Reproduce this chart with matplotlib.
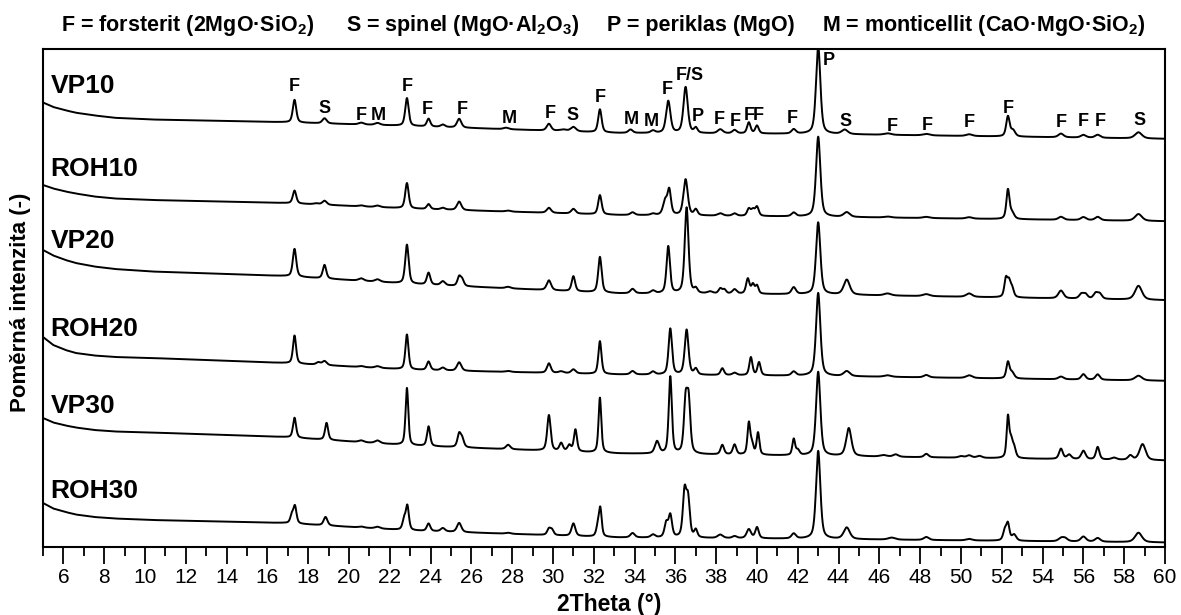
import numpy as np
import matplotlib
matplotlib.use("Agg")
import matplotlib.pyplot as plt

plt.rcParams['font.family'] = ['Liberation Sans', 'DejaVu Sans']
plt.rcParams['mathtext.fontset'] = 'custom'
plt.rcParams['mathtext.default'] = 'bf'
plt.rcParams['mathtext.bf'] = 'Liberation Sans:bold'
plt.rcParams['mathtext.rm'] = 'Liberation Sans:bold'

# baseline knots (2Theta) shared by all samples
base_tt = [5.0, 5.5, 6.1, 6.6, 7.5, 8.5, 10.3, 16.8, 23.0, 33.2, 43.3, 60.0]

# baseline levels, per sample
vp10_base = [449.5, 445.0, 441.7, 439.3, 436.6, 434.2, 432.5, 429.8, 426.0, 419.0, 418.0, 413.2]
roh10_base = [367.0, 363.5, 360.5, 358.5, 355.5, 353.5, 352.0, 349.0, 343.4, 337.0, 335.2, 330.8]
vp20_base = [302.0, 296.5, 292.0, 289.0, 285.5, 283.0, 280.5, 276.0, 268.1, 258.6, 257.5, 251.8]
roh20_base = [215.0, 207.0, 202.0, 199.0, 196.5, 195.0, 194.0, 189.0, 182.3, 177.5, 176.0, 171.2]
vp30_base = [134.0, 129.5, 126.5, 124.5, 122.0, 120.5, 119.5, 115.0, 106.5, 98.5, 96.0, 91.5]
roh30_base = [49.0, 43.5, 40.0, 37.5, 35.0, 33.5, 32.0, 29.0, 21.5, 14.5, 13.0, 9.5]

# peaks: 2Theta, height, fwhm
vp10_peaks = np.array([
    [17.33, 22.7, 0.2], [18.8, 5.1, 0.25], [20.6, 1.8, 0.3], [21.4, 2.0, 0.3],
    [22.84, 27.8, 0.2], [23.9, 7.8, 0.2], [24.6, 2.4, 0.25], [25.4, 8.8, 0.25],
    [27.7, 1.5, 0.3], [29.8, 6.8, 0.25], [30.5, 1.5, 0.4], [31.0, 4.4, 0.3],
    [32.3, 23.0, 0.2], [33.8, 3.4, 0.25], [34.9, 2.4, 0.25], [35.65, 32.0, 0.25],
    [36.5, 46.0, 0.25], [37.0, 5.0, 0.2], [38.2, 4.0, 0.3], [38.9, 3.4, 0.25],
    [39.6, 11.0, 0.2], [40.0, 7.8, 0.2], [41.8, 4.4, 0.25], [43.0, 88.0, 0.25],
    [44.3, 4.4, 0.35], [46.4, 1.5, 0.4], [48.3, 1.5, 0.4], [50.4, 1.7, 0.35],
    [52.3, 20.0, 0.2], [52.55, 6.0, 0.25], [54.9, 3.7, 0.3], [56.0, 2.7, 0.3],
    [56.7, 3.0, 0.3], [58.7, 6.1, 0.4],
])
roh10_peaks = np.array([
    [17.33, 12.9, 0.2], [18.4, 1.0, 0.3], [18.8, 4.0, 0.25], [20.6, 1.0, 0.3],
    [21.4, 1.5, 0.3], [22.84, 25.4, 0.2], [23.9, 5.0, 0.2], [24.6, 1.7, 0.25],
    [25.4, 8.5, 0.25], [27.8, 1.0, 0.3], [29.8, 5.0, 0.25], [31.0, 4.7, 0.25],
    [32.3, 19.3, 0.2], [33.9, 2.7, 0.25], [34.9, 1.4, 0.25], [35.5, 14.0, 0.25],
    [35.7, 24.0, 0.2], [36.5, 36.0, 0.25], [37.0, 5.8, 0.2], [38.2, 2.4, 0.3],
    [38.9, 2.4, 0.25], [39.6, 7.0, 0.2], [39.8, 6.0, 0.2], [40.0, 9.0, 0.2],
    [41.8, 3.7, 0.25], [43.0, 80.0, 0.25], [44.4, 4.7, 0.35], [46.4, 1.0, 0.4],
    [48.3, 1.2, 0.4], [50.4, 1.4, 0.35], [52.3, 29.0, 0.18], [52.5, 6.0, 0.25],
    [54.9, 3.0, 0.3], [56.0, 3.0, 0.3], [56.7, 3.4, 0.3], [58.7, 6.8, 0.4],
])
vp20_peaks = np.array([
    [17.33, 27.8, 0.2], [18.8, 13.6, 0.2], [20.6, 2.4, 0.3], [21.4, 2.4, 0.3],
    [22.84, 39.0, 0.2], [23.9, 11.9, 0.2], [24.6, 4.0, 0.25], [25.4, 9.0, 0.2],
    [25.55, 6.0, 0.2], [27.8, 1.5, 0.3], [29.8, 9.8, 0.25], [31.0, 15.0, 0.2],
    [32.3, 35.6, 0.2], [33.9, 4.4, 0.25], [34.9, 2.7, 0.25], [35.65, 47.0, 0.2],
    [36.55, 86.0, 0.22], [37.0, 4.4, 0.2], [37.7, 2.0, 0.3], [38.2, 5.0, 0.2],
    [38.4, 4.0, 0.2], [38.9, 4.4, 0.25], [39.55, 15.0, 0.2], [39.8, 9.0, 0.18],
    [40.0, 8.0, 0.18], [41.8, 6.8, 0.25], [43.0, 72.0, 0.25], [44.4, 15.0, 0.35],
    [46.4, 2.0, 0.4], [48.3, 2.0, 0.4], [50.4, 3.4, 0.35], [52.2, 18.0, 0.18],
    [52.35, 14.0, 0.18], [52.5, 9.0, 0.2], [54.9, 7.8, 0.3], [55.9, 4.5, 0.25],
    [56.1, 4.5, 0.25], [56.6, 5.5, 0.25], [56.8, 5.0, 0.25], [58.7, 13.9, 0.4],
])
roh20_peaks = np.array([
    [17.33, 28.1, 0.18], [18.5, 2.4, 0.25], [18.8, 4.0, 0.25], [20.6, 1.0, 0.3],
    [21.4, 1.7, 0.3], [22.84, 35.0, 0.18], [23.9, 8.5, 0.2], [24.6, 2.7, 0.25],
    [25.4, 8.5, 0.25], [27.8, 1.0, 0.3], [29.8, 9.5, 0.22], [30.4, 1.7, 0.3],
    [31.0, 4.0, 0.25], [32.3, 32.9, 0.18], [33.9, 3.4, 0.25], [34.9, 3.0, 0.25],
    [35.75, 46.0, 0.2], [36.55, 45.0, 0.22], [37.0, 5.8, 0.2], [38.3, 6.8, 0.2],
    [38.9, 2.4, 0.25], [39.7, 18.0, 0.18], [40.1, 13.0, 0.18], [41.8, 4.0, 0.25],
    [43.0, 83.0, 0.25], [44.4, 5.0, 0.35], [46.4, 1.5, 0.4], [48.3, 2.4, 0.3],
    [50.4, 2.7, 0.35], [52.3, 16.0, 0.18], [52.5, 6.0, 0.25], [54.9, 2.7, 0.3],
    [56.0, 5.4, 0.25], [56.7, 5.4, 0.25], [58.7, 4.7, 0.4],
])
vp30_peaks = np.array([
    [17.33, 20.0, 0.18], [18.9, 17.0, 0.18], [20.6, 1.7, 0.3], [21.4, 2.7, 0.3],
    [22.84, 57.3, 0.16], [23.9, 19.7, 0.18], [25.4, 13.0, 0.2], [25.55, 8.0, 0.2],
    [27.8, 4.4, 0.25], [29.8, 35.6, 0.2], [30.4, 7.8, 0.2], [30.8, 6.0, 0.2],
    [31.1, 22.0, 0.18], [32.3, 55.0, 0.16], [35.1, 12.2, 0.25], [35.75, 77.0, 0.18],
    [36.5, 50.0, 0.2], [36.65, 50.0, 0.2], [38.3, 9.5, 0.2], [38.9, 10.0, 0.2],
    [39.6, 31.0, 0.16], [39.75, 10.0, 0.18], [40.05, 22.0, 0.16], [41.8, 16.0, 0.16],
    [42.0, 5.0, 0.2], [43.0, 84.0, 0.25], [44.5, 28.0, 0.3], [46.2, 1.5, 0.4],
    [46.8, 2.4, 0.3], [48.3, 3.4, 0.25], [50.0, 1.5, 0.3], [50.4, 2.4, 0.3],
    [50.9, 2.0, 0.3], [52.3, 40.0, 0.15], [52.45, 16.0, 0.18], [52.6, 10.0, 0.2],
    [54.9, 10.2, 0.22], [55.3, 4.4, 0.25], [56.0, 8.5, 0.25], [56.7, 12.5, 0.2],
    [57.5, 2.0, 0.3], [58.3, 4.4, 0.25], [58.9, 16.0, 0.35],
])
roh30_peaks = np.array([
    [17.2, 8.0, 0.18], [17.35, 17.0, 0.18], [18.85, 8.5, 0.22], [20.6, 1.0, 0.3],
    [21.4, 1.7, 0.3], [22.7, 10.0, 0.18], [22.86, 24.0, 0.18], [23.9, 7.5, 0.2],
    [24.6, 3.4, 0.25], [25.4, 9.2, 0.25], [27.8, 1.0, 0.3], [29.8, 6.0, 0.2],
    [29.95, 5.0, 0.2], [31.0, 12.5, 0.22], [32.2, 10.0, 0.18], [32.32, 27.0, 0.16],
    [33.9, 4.4, 0.25], [34.9, 3.0, 0.25], [35.55, 14.0, 0.2], [35.75, 22.0, 0.2],
    [36.45, 45.0, 0.2], [36.62, 37.0, 0.2], [37.0, 7.5, 0.18], [38.2, 3.4, 0.3],
    [38.9, 2.0, 0.25], [39.6, 9.0, 0.25], [40.0, 11.0, 0.2], [41.8, 5.0, 0.25],
    [43.0, 88.0, 0.25], [44.4, 11.5, 0.35], [46.6, 2.0, 0.4], [48.3, 3.0, 0.3],
    [50.4, 1.5, 0.35], [52.15, 10.0, 0.2], [52.3, 16.0, 0.18], [52.6, 6.0, 0.25],
    [54.9, 3.0, 0.3], [55.1, 3.0, 0.3], [56.0, 5.0, 0.3], [56.7, 3.7, 0.3],
    [58.7, 9.5, 0.4],
])

sample_names = ["VP10", "ROH10", "VP20", "ROH20", "VP30", "ROH30"]
sample_bases = [vp10_base, roh10_base, vp20_base, roh20_base, vp30_base, roh30_base]
sample_peaks = [vp10_peaks, roh10_peaks, vp20_peaks, roh20_peaks, vp30_peaks, roh30_peaks]
name_y = [459, 376, 304, 216, 139, 54]

# phase marks above VP10
mark_txt = ["F", "S", "F", "M", "F", "F", "F", "M", "F", "S", "F",
            "M", "M", "F", "F/S", "P", "F", "F", "F", "F", "F",
            "S", "F", "F", "F", "F", "F", "F", "F", "S"]
mark_x = [17.33, 18.8, 20.62, 21.42, 22.84, 23.84, 25.53, 27.84, 29.85, 30.94, 32.34,
          33.83, 34.8, 35.62, 36.71, 37.11, 38.16, 38.93, 39.62, 40.08, 41.71,
          44.35, 46.63, 48.35, 50.41, 52.32, 54.9, 56.0, 56.85, 58.73]
mark_y = [460.6, 439.3, 432.5, 432.5, 460.6, 437.6, 437.6, 429.1, 434.2, 432.5, 449.5,
          428.1, 425.7, 458.0, 471.5, 430.8, 428.0, 425.7, 432.5, 432.5, 429.1,
          426.4, 420.6, 422.3, 424.7, 439.3, 424.7, 425.7, 425.7, 426.7]

legend_parts = ["F = forsterit (2MgO·SiO$_2$)", "S = spinel (MgO·Al$_2$O$_3$)",
                "P = periklas (MgO)", "M = monticellit (CaO·MgO·SiO$_2$)"]
legend_left = [61, 346, 607, 822]


def pattern(tt, base, peaks):
    y = np.interp(tt, base_tt, base)
    eta = 0.5
    for x0, h, fw in peaks:
        u = (tt - x0) / (fw / 2)
        y = y + h * (eta / (1 + u ** 2) + (1 - eta) * np.exp(-np.log(2) * u ** 2))
    return y


def main():
    fig = plt.figure(figsize=(11.81, 6.15), dpi=100)
    # frame spans 43..1165 px horizontally, 49..547 px vertically
    ax = fig.add_axes([43 / 1181, 68 / 615, (1165 - 43) / 1181, 498 / 615])

    tt = np.arange(5.0, 60.0001, 0.01)
    for name, base, peaks, ny in zip(sample_names, sample_bases, sample_peaks, name_y):
        ax.plot(tt, pattern(tt, base, peaks), color='black', lw=1.4)
        ax.text(5.36, ny, name, fontsize=19, fontweight='bold', va='baseline', ha='left')

    for t, x, y in zip(mark_txt, mark_x, mark_y):
        ax.text(x, y, t, fontsize=13, fontweight='bold', ha='center', va='baseline')
    ax.text(43.2, 487, "P", fontsize=13, fontweight='bold', ha='left', va='baseline')

    ax.set_xlim(5, 60)
    ax.set_ylim(5, 503)
    ax.set_xticks(range(6, 61, 2))
    ax.set_xticks(range(5, 60, 2), minor=True)
    ax.set_yticks([])
    ax.tick_params(axis='x', which='major', length=12, width=1.3, labelsize=15, pad=3)
    ax.tick_params(axis='x', which='minor', length=6.5, width=1.3)
    for s in ax.spines.values():
        s.set_linewidth(1.5)

    for txt, lx in zip(legend_parts, legend_left):
        fig.text(lx / 1181, 1 - 31 / 615, txt, fontsize=15.5, fontweight='bold',
                 ha='left', va='baseline')

    fig.text(609 / 1181, 1 - 605 / 615, "2Theta (°)", fontsize=16.5, fontweight='bold',
             ha='center', va='center')
    fig.text(21 / 1181, 1 - 302 / 615, "Poměrná intenzita (-)", fontsize=16,
             fontweight='bold', rotation=90, ha='center', va='center')

    fig.savefig("out.png", dpi=100)


if __name__ == "__main__":
    main()
